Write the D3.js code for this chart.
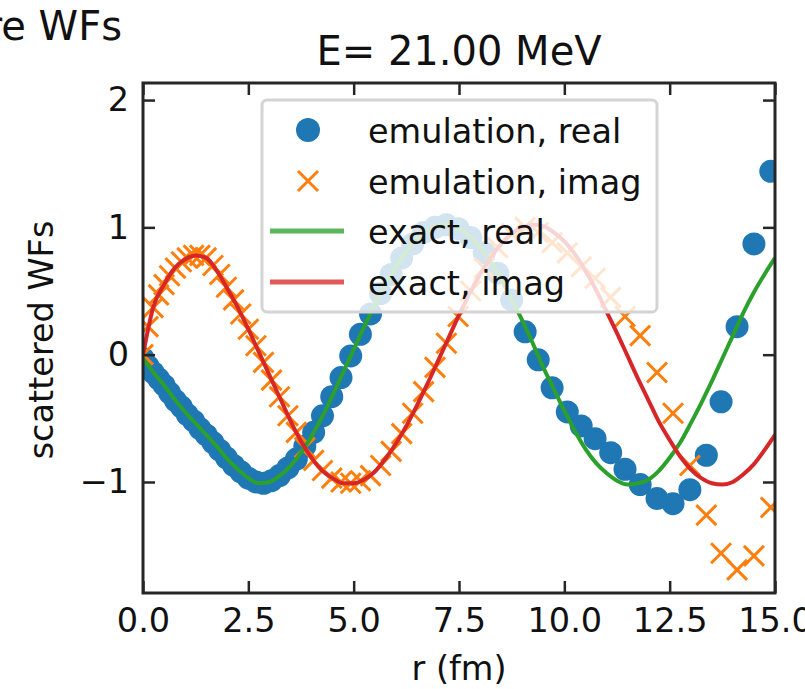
<!DOCTYPE html>
<html>
<head>
<meta charset="utf-8">
<script src="https://cdn.jsdelivr.net/npm/d3@7"></script>
<style>
body{margin:0;background:#fff;}
svg{display:block;font-family:"DejaVu Sans",sans-serif;}
</style>
</head>
<body>
<svg id="chart" width="805" height="689"></svg>
<script>
// exact solution, sampled every 0.25 fm
var rExact=[0,0.25,0.5,0.75,1,1.25,1.5,1.75,2,2.25,2.5,2.75,3,3.25,3.5,3.75,4,4.25,4.5,4.75,5,5.25,5.5,5.75,6,6.25,6.5,6.75,7,7.25,7.5,7.75,8,8.25,8.5,8.75,9,9.25,9.5,9.75,10,10.25,10.5,10.75,11,11.25,11.5,11.75,12,12.25,12.5,12.75,13,13.25,13.5,13.75,14,14.25,14.5,14.75,15];
var exactReal=[-0.03,-0.14,-0.24,-0.35,-0.45,-0.54,-0.63,-0.72,-0.82,-0.90,-0.97,-1.01,-1.00,-0.95,-0.875,-0.77,-0.64,-0.49,-0.32,-0.14,0.04,0.22,0.39,0.55,0.69,0.81,0.91,0.98,1.01,1.02,0.99,0.93,0.84,0.73,0.59,0.43,0.27,0.09,-0.10,-0.27,-0.44,-0.60,-0.74,-0.85,-0.93,-0.99,-1.02,-1.01,-0.98,-0.91,-0.81,-0.69,-0.54,-0.38,-0.21,-0.03,0.15,0.33,0.49,0.63,0.76];
var exactImag=[0.00,0.38,0.55,0.68,0.75,0.78,0.76,0.66,0.52,0.37,0.20,0.02,-0.16,-0.34,-0.52,-0.68,-0.81,-0.91,-0.97,-1.01,-1.01,-0.98,-0.92,-0.82,-0.70,-0.56,-0.40,-0.23,-0.05,0.13,0.31,0.48,0.63,0.76,0.87,0.95,1.00,1.02,1.01,0.96,0.89,0.79,0.66,0.51,0.34,0.17,-0.01,-0.19,-0.36,-0.53,-0.67,-0.80,-0.90,-0.97,-1.01,-1.02,-1.00,-0.94,-0.86,-0.75,-0.63];

// emulator mesh and values
var rEmu=[0.00,0.12,0.24,0.37,0.50,0.63,0.77,0.91,1.05,1.20,1.35,1.50,1.66,1.82,1.98,2.15,2.32,2.50,2.68,2.86,3.05,3.24,3.44,3.64,3.84,4.05,4.26,4.48,4.70,4.93,5.16,5.40,5.64,5.89,6.14,6.40,6.66,6.93,7.20,7.48,7.78,8.10,8.42,8.75,9.07,9.38,9.71,10.07,10.40,10.73,11.10,11.44,11.80,12.20,12.58,12.98,13.37,13.72,14.10,14.50,14.90];
var emuReal=[-0.03,-0.09,-0.14,-0.19,-0.24,-0.30,-0.36,-0.41,-0.47,-0.52,-0.58,-0.63,-0.69,-0.75,-0.81,-0.87,-0.92,-0.97,-1.00,-1.01,-0.99,-0.95,-0.89,-0.82,-0.72,-0.61,-0.48,-0.33,-0.18,-0.01,0.16,0.32,0.48,0.63,0.76,0.87,0.96,1.00,1.02,0.99,0.92,0.80,0.64,0.43,0.18,-0.04,-0.26,-0.45,-0.56,-0.66,-0.77,-0.90,-1.02,-1.13,-1.17,-1.06,-0.79,-0.37,0.22,0.87,1.44];
var emuImag=[0.00,0.22,0.37,0.47,0.55,0.62,0.68,0.73,0.76,0.78,0.78,0.76,0.70,0.63,0.53,0.43,0.32,0.20,0.07,-0.06,-0.20,-0.33,-0.48,-0.61,-0.73,-0.83,-0.91,-0.97,-1.00,-1.01,-0.99,-0.95,-0.87,-0.76,-0.62,-0.46,-0.29,-0.10,0.09,0.30,0.50,0.68,0.84,0.95,1.00,0.96,0.88,0.80,0.69,0.60,0.45,0.30,0.15,-0.14,-0.46,-0.87,-1.26,-1.56,-1.69,-1.58,-1.20];

var xTicks=[0,2.5,5,7.5,10,12.5,15];
var yTicks=[-1,0,1,2];
var legendLabels=["emulation, real","emulation, imag","exact, real","exact, imag"];

var svg=d3.select("#chart");
var box={left:143,right:775,top:83,bottom:593};
var axisColor="#262626";

var x=d3.scaleLinear().domain([0,15]).range([box.left,box.right]);
var y=d3.scaleLinear().domain([-1.872,2.134]).range([box.bottom,box.top]);

svg.append("defs").append("clipPath").attr("id","plotClip")
	.append("rect")
	.attr("x",box.left).attr("y",box.top)
	.attr("width",box.right-box.left).attr("height",box.bottom-box.top);

var plot=svg.append("g").attr("clip-path","url(#plotClip)");

// emulation, real
plot.append("g").selectAll("circle")
	.data(rEmu)
	.enter().append("circle")
	.attr("cx",function(d){return x(d);})
	.attr("cy",function(d,i){return y(emuReal[i]);})
	.attr("r",11.5)
	.attr("fill","#1f77b4");

// emulation, imag
function xMark(s){
	return "M"+(-s)+","+(-s)+"L"+s+","+s+"M"+(-s)+","+s+"L"+s+","+(-s);
}
plot.append("g").selectAll("path")
	.data(rEmu)
	.enter().append("path")
	.attr("transform",function(d,i){return "translate("+x(d)+","+y(emuImag[i])+")";})
	.attr("d",xMark(10))
	.attr("stroke","#ff7f0e")
	.attr("stroke-width",3)
	.attr("fill","none");

var line=d3.line().curve(d3.curveMonotoneX);
plot.append("path")
	.attr("d",line(rExact.map(function(d,i){return [x(d),y(exactReal[i])];})))
	.attr("fill","none").attr("stroke","#2ca02c").attr("stroke-width",4);
plot.append("path")
	.attr("d",line(rExact.map(function(d,i){return [x(d),y(exactImag[i])];})))
	.attr("fill","none").attr("stroke","#d62728").attr("stroke-width",4);

// axes, ticks pointing in on all four sides
function styleAxis(g){
	g.select(".domain").remove();
	g.selectAll(".tick line").attr("stroke",axisColor).attr("stroke-width",2.5);
	g.selectAll(".tick text").attr("fill","#111").style("font-size","33.5px").style("font-family","DejaVu Sans");
}
svg.append("g")
	.attr("transform","translate(0,"+box.bottom+")")
	.call(d3.axisBottom(x).tickValues(xTicks).tickFormat(d3.format(".1f")).tickSizeInner(-12).tickSizeOuter(0).tickPadding(15))
	.call(styleAxis);
svg.append("g")
	.attr("transform","translate(0,"+box.top+")")
	.call(d3.axisTop(x).tickValues(xTicks).tickFormat("").tickSizeInner(-12).tickSizeOuter(0))
	.call(styleAxis);
svg.append("g")
	.attr("transform","translate("+box.left+",0)")
	.call(d3.axisLeft(y).tickValues(yTicks).tickFormat(d3.format("d")).tickSizeInner(-12).tickSizeOuter(0).tickPadding(14))
	.call(styleAxis);
svg.append("g")
	.attr("transform","translate("+box.right+",0)")
	.call(d3.axisRight(y).tickValues(yTicks).tickFormat("").tickSizeInner(-12).tickSizeOuter(0))
	.call(styleAxis);

svg.append("rect")
	.attr("x",box.left).attr("y",box.top)
	.attr("width",box.right-box.left).attr("height",box.bottom-box.top)
	.attr("fill","none").attr("stroke",axisColor).attr("stroke-width",3);

// legend
var leg=svg.append("g");
leg.append("rect")
	.attr("x",262).attr("y",100).attr("width",395).attr("height",212).attr("rx",5)
	.attr("fill","#fff").attr("fill-opacity",0.8)
	.attr("stroke","#d4d4d4").attr("stroke-width",3);
var rowY=[130,181,231,282];
leg.append("circle").attr("cx",308).attr("cy",rowY[0]).attr("r",12).attr("fill","#1f77b4");
leg.append("path").attr("transform","translate(308,"+rowY[1]+")").attr("d",xMark(10))
	.attr("stroke","#ff7f0e").attr("stroke-width",3).attr("fill","none");
leg.append("line").attr("x1",270).attr("x2",344).attr("y1",rowY[2]).attr("y2",rowY[2])
	.attr("stroke","#5cb65c").attr("stroke-width",5);
leg.append("line").attr("x1",270).attr("x2",344).attr("y1",rowY[3]).attr("y2",rowY[3])
	.attr("stroke","#e05a5a").attr("stroke-width",5);
leg.selectAll("text.lab")
	.data(legendLabels)
	.enter().append("text")
	.attr("class","lab")
	.attr("x",368)
	.attr("y",function(d,i){return rowY[i]+12.5;})
	.style("font-size","33.5px")
	.attr("fill","#111")
	.text(function(d){return d;});

// titles and labels
svg.append("text").attr("x",(box.left+box.right)/2).attr("y",65)
	.attr("text-anchor","middle").style("font-size","40px").attr("fill","#111")
	.text("E= 21.00 MeV");
svg.append("text").attr("x",122).attr("y",40)
	.attr("text-anchor","end").style("font-size","40px").attr("fill","#111")
	.text("re WFs");
svg.append("text").attr("x",(box.left+box.right)/2).attr("y",680)
	.attr("text-anchor","middle").style("font-size","33.5px").attr("fill","#111")
	.text("r (fm)");
svg.append("text").attr("transform","translate(53,340) rotate(-90)")
	.attr("text-anchor","middle").style("font-size","33.5px").attr("fill","#111")
	.text("scattered WFs");
</script>
</body>
</html>
